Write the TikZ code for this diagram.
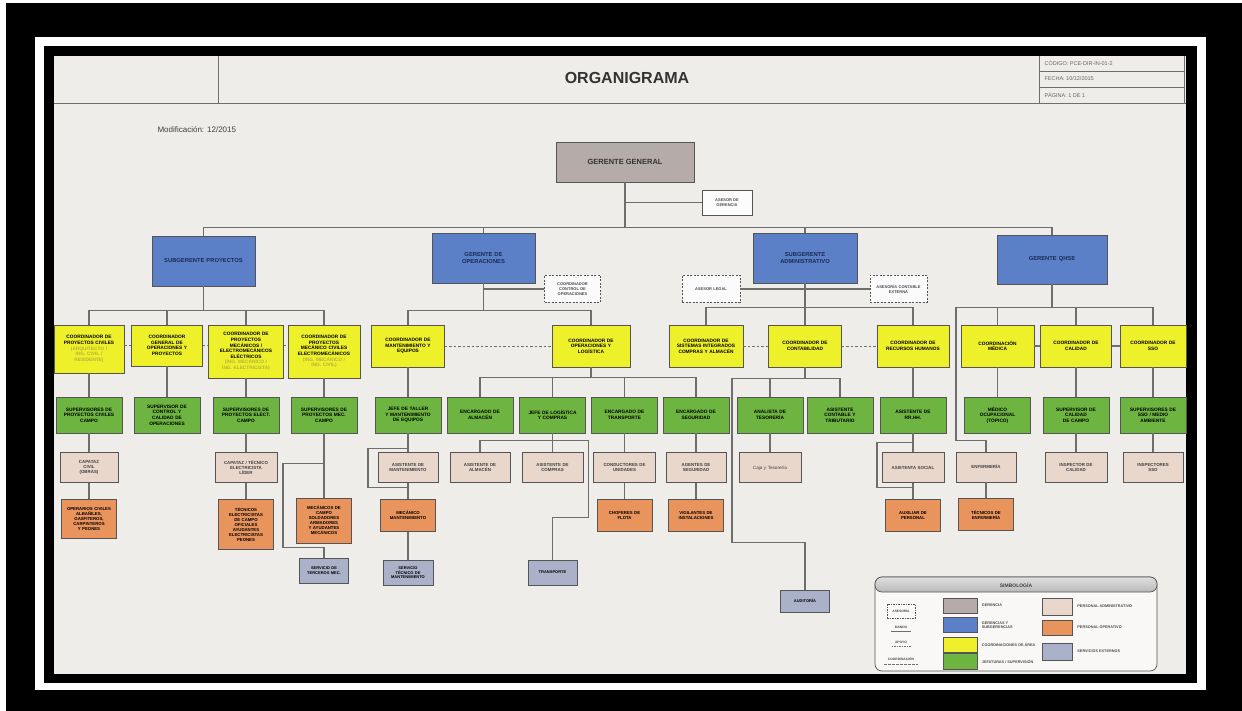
\documentclass[tikz,border=0pt]{standalone}
\usepackage{fontspec}
\setmainfont{Liberation Sans}
\usepackage{xcolor}
\usetikzlibrary{positioning}

\definecolor{paper}{HTML}{EFEDEA}
\definecolor{linegray}{HTML}{6E6E6E}
\definecolor{boxline}{HTML}{555555}
\definecolor{gergray}{HTML}{B5ACAA}
\definecolor{gerblue}{HTML}{5B80C8}
\definecolor{navy}{HTML}{1C2A55}
\definecolor{coordyellow}{HTML}{EEF02A}
\definecolor{supgreen}{HTML}{6DB540}
\definecolor{asisbeige}{HTML}{E9D7CC}
\definecolor{oporange}{HTML}{E9945C}
\definecolor{extlav}{HTML}{A9B2C8}
\definecolor{palytext}{HTML}{B8B23A}

\begin{document}
\begin{tikzpicture}[x=1pt, y=-1pt,
    link/.style={draw=linegray, line width=1.1pt},
    dashlink/.style={draw=linegray, line width=1pt, dash pattern=on 2.5pt off 2pt},
    base/.style={rectangle, draw=boxline, line width=0.8pt, align=center, inner sep=1pt, font=\fontsize{4.8}{5.6}\selectfont\bfseries},
    gerbox/.style={base, fill=gergray, minimum width=138pt, minimum height=40pt, font=\fontsize{7.5}{9}\selectfont\bfseries, text=black!80},
    jefebox/.style={base, fill=gerblue, minimum width=103pt, minimum height=50pt, text width=90pt, font=\fontsize{5.8}{7}\selectfont\bfseries, text=navy},
    coordbox/.style={base, fill=coordyellow, minimum width=73pt, minimum height=42pt, text width=68pt},
    supbox/.style={base, fill=supgreen, minimum width=66pt, minimum height=36pt, text width=63pt},
    asisbox/.style={base, fill=asisbeige, minimum width=61pt, minimum height=30pt, text width=58pt, font=\fontsize{4.4}{5.1}\selectfont\bfseries, text=black!75},
    opbox/.style={base, fill=oporange, minimum width=55pt, minimum height=32pt, text width=53pt, font=\fontsize{4.3}{5}\selectfont\bfseries},
    extbox/.style={base, fill=extlav, minimum width=49pt, minimum height=25pt, text width=47pt, font=\fontsize{4}{4.7}\selectfont\bfseries},
    asesbox/.style={base, fill=white!80!paper, dash pattern=on 2pt off 1.5pt, minimum width=56pt, minimum height=27pt, text width=53pt, font=\fontsize{4}{4.7}\selectfont\bfseries, text=black!70},
    swatch/.style={draw=boxline, line width=0.5pt, minimum width=34pt, minimum height=15pt, inner sep=0pt},
    legtext/.style={font=\fontsize{3.8}{4.4}\selectfont\bfseries, text=black!70, align=left, anchor=west, inner sep=0pt}]
    \useasboundingbox (0,0) rectangle (1242,711);

    % Frame
    \fill[white] (0,0) rectangle (1242,711);
    \fill[black] (6,3) rectangle (1242,711);
    \fill[white] (35,37) rectangle (1206,690);
    \fill[black] (44,46) rectangle (1197,683);
    \fill[paper] (54,56) rectangle (1186,674);

    % Header
    \draw[linegray, line width=0.8pt] (54,103) -- (1186,103);
    \draw[linegray, line width=0.8pt] (218,56) -- (218,103);
    \draw[linegray, line width=0.8pt] (1039,56) -- (1039,103);
    \draw[linegray, line width=0.6pt] (1039,71) -- (1184,71);
    \draw[linegray, line width=0.6pt] (1039,87) -- (1184,87);
    \draw[linegray, line width=0.6pt] (1184,56) -- (1184,103);
    \node[font=\fontsize{16}{18}\selectfont\bfseries, text=black!80] (title) at (627,78) {ORGANIGRAMA};
    \node[font=\fontsize{5.5}{6}\selectfont, text=black!60, anchor=west] (codigo) at (1041,63.5) {CÓDIGO: PCE-DIR-IN-01-2};
    \node[font=\fontsize{5.5}{6}\selectfont, text=black!60, anchor=west] (fecha) at (1041,79) {FECHA: 10/12/2015};
    \node[font=\fontsize{5.5}{6}\selectfont, text=black!60, anchor=west] (pagina) at (1041,95) {PÁGINA: 1 DE 1};
    \node[font=\fontsize{8}{9}\selectfont, text=black!75, anchor=west] (modif) at (154,130) {Modificación: 12/2015};

    % Gerencia
    \node[gerbox] (gg) at (625,162) {GERENTE GENERAL};
    \node[base, fill=white!85!paper, minimum width=50pt, minimum height=25pt, font=\fontsize{4}{4.7}\selectfont\bfseries, text=black!70] (ases) at (727,202.5) {ASESOR DE\\GERENCIA};

    \node[jefebox] (b1) at (203.5,261) {SUBGERENTE PROYECTOS};
    \node[jefebox] (b2) at (483.5,258) {GERENTE DE\\OPERACIONES};
    \node[jefebox, minimum width=104pt] (b3) at (805,258) {SUBGERENTE\\ADMINISTRATIVO};
    \node[jefebox, minimum width=110pt, minimum height=49pt] (b4) at (1052,259.5) {GERENTE QHSE};

    \node[asesbox] (oase) at (572.5,289) {COORDINADOR\\CONTROL DE\\OPERACIONES};
    \node[asesbox, minimum width=58pt] (aase1) at (711,289) {ASESOR LEGAL};
    \node[asesbox, minimum width=57pt] (aase2) at (898.5,289) {ASESORÍA CONTABLE\\EXTERNA};

    % Coordinaciones
    \node[coordbox, minimum width=70pt, text width=67pt, minimum height=48pt] (y1) at (89,349) {COORDINADOR DE\\PROYECTOS CIVILES\\{\color{palytext}(ARQUITECTO /\\ING. CIVIL /\\RESIDENTE)}};
    \node[coordbox, minimum width=71pt, text width=67pt, minimum height=41pt] (y2) at (167,345.5) {COORDINADOR\\GENERAL DE\\OPERACIONES Y\\PROYECTOS};
    \node[coordbox, minimum width=75pt, text width=72pt, minimum height=53pt] (y3) at (246,351.5) {COORDINADOR DE\\PROYECTOS\\MECÁNICOS /\\ELECTROMECÁNICOS\\ELÉCTRICOS\\{\color{palytext}(ING. MECÁNICO /\\ING. ELECTRICISTA)}};
    \node[coordbox, minimum width=72pt, text width=69pt, minimum height=53pt] (y4) at (324,351.5) {COORDINADOR DE\\PROYECTOS\\MECÁNICO CIVILES\\ELECTROMECÁNICOS\\{\color{palytext}(ING. MECÁNICO /\\ING. CIVIL)}};
    \node[coordbox] (y5) at (408,346) {COORDINADOR DE\\MANTENIMIENTO Y\\EQUIPOS};
    \node[coordbox, minimum width=78pt] (y6) at (591,346) {COORDINADOR DE\\OPERACIONES Y\\LOGÍSTICA};
    \node[coordbox, minimum width=74pt, text width=71pt] (y7) at (706,346) {COORDINADOR DE\\SISTEMAS INTEGRADOS\\COMPRAS Y ALMACÉN};
    \node[coordbox] (y8) at (805,346) {COORDINADOR DE\\CONTABILIDAD};
    \node[coordbox, minimum width=72pt] (y9) at (913,346) {COORDINADOR DE\\RECURSOS HUMANOS};
    \node[coordbox] (y10) at (997.5,346) {COORDINACIÓN\\MÉDICA};
    \node[coordbox, minimum width=71pt] (y11) at (1076,346) {COORDINADOR DE\\CALIDAD};
    \node[coordbox, minimum width=66pt, text width=63pt] (y12) at (1153,346) {COORDINADOR DE\\SSO};

    % Jefaturas y supervision
    \node[supbox] (g1) at (89,415) {SUPERVISORES DE\\PROYECTOS CIVILES\\CAMPO};
    \node[supbox] (g2) at (167,415) {SUPERVISOR DE\\CONTROL Y\\CALIDAD DE\\OPERACIONES};
    \node[supbox] (g3) at (246,415) {SUPERVISORES DE\\PROYECTOS ELÉCT.\\CAMPO};
    \node[supbox] (g4) at (324,415) {SUPERVISORES DE\\PROYECTOS MEC.\\CAMPO};
    \node[supbox] (g5) at (408,415) {JEFE DE TALLER\\Y MANTENIMIENTO\\DE EQUIPOS};
    \node[supbox] (g6) at (480,415) {ENCARGADO DE\\ALMACÉN};
    \node[supbox] (g7) at (552.5,415) {JEFE DE LOGÍSTICA\\Y COMPRAS};
    \node[supbox] (g8) at (624.5,415) {ENCARGADO DE\\TRANSPORTE};
    \node[supbox] (g9) at (696,415) {ENCARGADO DE\\SEGURIDAD};
    \node[supbox] (g10) at (770,415) {ANALISTA DE\\TESORERÍA};
    \node[supbox] (g11) at (840,415) {ASISTENTE\\CONTABLE Y\\TRIBUTARIO};
    \node[supbox] (g12) at (913,415) {ASISTENTE DE\\RR.HH.};
    \node[supbox] (g13) at (997.5,415) {MÉDICO\\OCUPACIONAL\\(TÓPICO)};
    \node[supbox] (g14) at (1076,415) {SUPERVISOR DE\\CALIDAD\\DE CAMPO};
    \node[supbox] (g15) at (1153,415) {SUPERVISORES DE\\SSO / MEDIO\\AMBIENTE};

    % Asistentes
    \node[asisbox, minimum width=58pt, text width=56pt, below=19pt of g1] (p1) {CAPATAZ\\CIVIL\\(OBRAS)};
    \node[asisbox, minimum width=62pt, below=19pt of g3] (p3) {CAPATAZ / TÉCNICO\\ELECTRICISTA\\LÍDER};
    \node[asisbox, minimum width=60pt, below=19pt of g5] (p5) {ASISTENTE DE\\MANTENIMIENTO};
    \node[asisbox, minimum width=60pt, below=19pt of g6] (p6) {ASISTENTE DE\\ALMACÉN};
    \node[asisbox, below=19pt of g7] (p7) {ASISTENTE DE\\COMPRAS};
    \node[asisbox, minimum width=62pt, below=19pt of g8] (p8) {CONDUCTORES DE\\UNIDADES};
    \node[asisbox, minimum width=60pt, below=19pt of g9] (p9) {AGENTES DE\\SEGURIDAD};
    \node[asisbox, minimum width=62pt, below=19pt of g10, font=\fontsize{4.6}{5.3}\selectfont] (p10) {Caja y Tesorería};
    \node[asisbox, minimum width=62pt, below=19pt of g12] (p12) {ASISTENTA SOCIAL};
    \node[asisbox, minimum width=60pt] (p13) at (986,467) {ENFERMERÍA};
    \node[asisbox, minimum width=62pt, below=19pt of g14] (p14) {INSPECTOR DE\\CALIDAD};
    \node[asisbox, minimum width=60pt, below=19pt of g15] (p15) {INSPECTORES\\SSO};

    % Personal operativo
    \node[opbox, minimum height=39pt, below=16pt of p1] (o1) {OPERARIOS CIVILES\\ALBAÑILES,\\GASFITEROS,\\CARPINTEROS\\Y PEONES};
    \node[opbox, minimum width=54pt, minimum height=50pt, below=16pt of p3] (o3) {TÉCNICOS\\ELECTRICISTAS\\DE CAMPO\\OFICIALES\\AYUDANTES\\ELECTRICISTAS\\PEONES};
    \node[opbox, minimum height=45pt] (o4) at (324,520.5) {MECÁNICOS DE\\CAMPO\\SOLDADORES\\ARMADORES\\Y AYUDANTES\\MECÁNICOS};
    \node[opbox, below=16pt of p5] (o5) {MECÁNICO\\MANTENIMIENTO};
    \node[opbox, below=16pt of p8] (o8) {CHOFERES DE\\FLOTA};
    \node[opbox, below=16pt of p9] (o9) {VIGILANTES DE\\INSTALACIONES};
    \node[opbox, minimum width=53pt, below=16pt of p12] (o12) {AUXILIAR DE\\PERSONAL};
    \node[opbox, minimum width=54pt, below=16pt of p13] (o13) {TÉCNICOS DE\\ENFERMERÍA};

    % Servicios externos
    \node[extbox, minimum width=48pt] (s4) at (324,570.5) {SERVICIO DE\\TERCEROS MEC.};
    \node[extbox, minimum width=50pt, below=28pt of o5] (s5) {SERVICIO\\TÉCNICO DE\\MANTENIMIENTO};
    \node[extbox] (s7) at (552.5,572.5) {TRANSPORTE};
    \node[extbox, minimum width=46pt, minimum height=22pt] (s10) at (805,601) {AUDITORÍA};

    % Lines from gerencia
    \draw[link] (gg.south) -- ++(0,45.5) -| (b1.north);
    \draw[link] (gg.south) ++(0,45.5) -| (b2.north);
    \draw[link] (gg.south) ++(0,45.5) -| (b3.north);
    \draw[link] (gg.south) ++(0,45.5) -| (b4.north);
    \draw[link] (gg.south |- ases.west) -- (ases.west);

    % Subgerencia proyectos
    \foreach \n in {y1,y2,y3,y4}
        \draw[link] (b1.south) -- ++(0,24) -| (\n.north);
    \draw[dashlink] (y1.east |- y2.west) -- (y2.west);
    \draw[dashlink] (y2.east) -- (y2.east -| y3.west);
    \draw[dashlink] (y3.east |- y2.east) -- (y4.west |- y2.east);
    \draw[link] (y1) -- (g1) -- (p1) -- (o1);
    \draw[link] (y2) -- (g2);
    \draw[link] (y3) -- (g3) -- (p3) -- (o3);
    \draw[link] (y4) -- (g4) -- (o4);
    \draw[link] (g4.south) ++(0,30) -- ++(-41,0) -- ++(0,84) -| (s4.north);

    % Gerencia de operaciones
    \foreach \n in {y5,y6}
        \draw[link] (b2.south) -- ++(0,27) -| (\n.north);
    \draw[link] (b2.south |- oase.west) -- (oase.west);
    \draw[dashlink] (y5.east) -- (y6.west);
    \draw[link] (y5) -- (g5) -- (p5) -- (o5) -- (s5);
    \draw[link] (g5.south) ++(0,15) -- ++(-40,0) -- ++(0,39) -- ++(40,0);
    \foreach \n in {g6,g7,g8,g9}
        \draw[link] (y6.south) -- ++(0,10) -| (\n.north);
    \draw[link] (g7) -- (p7);
    \draw[link] (g7.south) ++(0,7) -| (p6.north);
    \draw[link] (g7.south) ++(0,7) -- ++(36,0) -- ++(0,77) -| (s7.north);
    \draw[link] (g8) -- (p8) -- (o8);
    \draw[link] (g9) -- (p9) -- (o9);

    % Subgerencia administrativa
    \foreach \n in {y7,y8,y9}
        \draw[link] (b3.south) -- ++(0,24) -| (\n.north);
    \draw[link] (aase1.east) -- (aase2.west);
    \draw[dashlink] (y7.east) -- (y8.west);
    \draw[dashlink] (y8.east) -- (y9.west);
    \foreach \n in {g10,g11}
        \draw[link] (y8.south) -- ++(0,11) -| (\n.north);
    \draw[link] (y8.south) ++(0,11) -| ++(-73,164) -| (s10.north);
    \draw[link] (g10) -- (p10);
    \draw[link] (y9) -- (g12) -- (p12) -- (o12);
    \draw[link] (g12.south) ++(0,9) -- ++(-36,0) -- ++(0,45) -- ++(36,0);

    % Gerencia QHSE
    \foreach \n in {y10,y11,y12}
        \draw[link] (b4.south) -- ++(0,23) -| (\n.north);
    \draw[link] (b4.south) ++(0,23) -| ++(-96,133) -| (p13.north);
    \draw[link] (y10.east) -- (y11.west);
    \draw[link] (y11.east) -- (y12.west);
    \draw[link] (y10) -- (g13);
    \draw[link] (p13) -- (o13);
    \draw[link] (y11) -- (g14) -- (p14);
    \draw[link] (y12) -- (g15) -- (p15);

    % Legend
    \draw[boxline, line width=0.7pt, fill=white!60!paper, rounded corners=7pt] (875,577) rectangle (1157,671);
    \draw[boxline, line width=0.7pt, top color=gray!25, bottom color=gray!55, rounded corners=7pt] (875,592) -- (875,577) -- (1157,577) -- (1157,592) -- cycle;
    \node[font=\fontsize{5}{6}\selectfont\bfseries, text=black!75] (legtitle) at (1016,585) {SIMBOLOGÍA};
    \node[swatch, fill=gergray] (lg1) at (960.5,605.5) {};
    \node[swatch, fill=gerblue] (lg2) at (960.5,625) {};
    \node[swatch, fill=coordyellow] (lg3) at (960.5,644.5) {};
    \node[swatch, fill=supgreen, minimum height=16pt] (lg4) at (960.5,661.5) {};
    \node[swatch, minimum width=30pt, fill=asisbeige, minimum height=17pt] (lg5) at (1057,606.5) {};
    \node[swatch, minimum width=30pt, fill=oporange] (lg6) at (1057,627.5) {};
    \node[swatch, minimum width=30pt, fill=extlav, minimum height=17pt] (lg7) at (1057,651.5) {};
    \node[legtext, right=4pt of lg1] {GERENCIA};
    \node[legtext, right=4pt of lg2] {GERENCIAS Y\\SUBGERENCIAS};
    \node[legtext, right=4pt of lg3] {COORDINACIONES DE ÁREA};
    \node[legtext, right=4pt of lg4] {JEFATURAS / SUPERVISIÓN};
    \node[legtext, right=5pt of lg5] {PERSONAL ADMINISTRATIVO};
    \node[legtext, right=5pt of lg6] {PERSONAL OPERATIVO};
    \node[legtext, right=5pt of lg7] {SERVICIOS EXTERNOS};
    \node[base, fill=white!70!paper, dash pattern=on 1.5pt off 1pt, minimum width=28pt, minimum height=14pt, font=\fontsize{3.3}{4}\selectfont\bfseries, text=black!70] (ls1) at (901,611) {ASESORÍA};
    \node[font=\fontsize{3.3}{4}\selectfont\bfseries, text=black!70] (ls2) at (901,627) {MANDO};
    \draw[linegray, line width=0.8pt] (ls2.south west) -- (ls2.south east);
    \node[font=\fontsize{3.3}{4}\selectfont\bfseries, text=black!70] (ls3) at (901,642) {APOYO};
    \draw[linegray, line width=0.6pt, dash pattern=on 1.5pt off 1pt] (ls3.south west) -- (ls3.south east);
    \node[font=\fontsize{3.3}{4}\selectfont\bfseries, text=black!70] (ls4) at (901,659) {COORDINACIÓN};
    \draw[linegray, line width=0.6pt, dash pattern=on 2.5pt off 1.5pt] (ls4.south west) -- (ls4.south east);
\end{tikzpicture}
\end{document}
